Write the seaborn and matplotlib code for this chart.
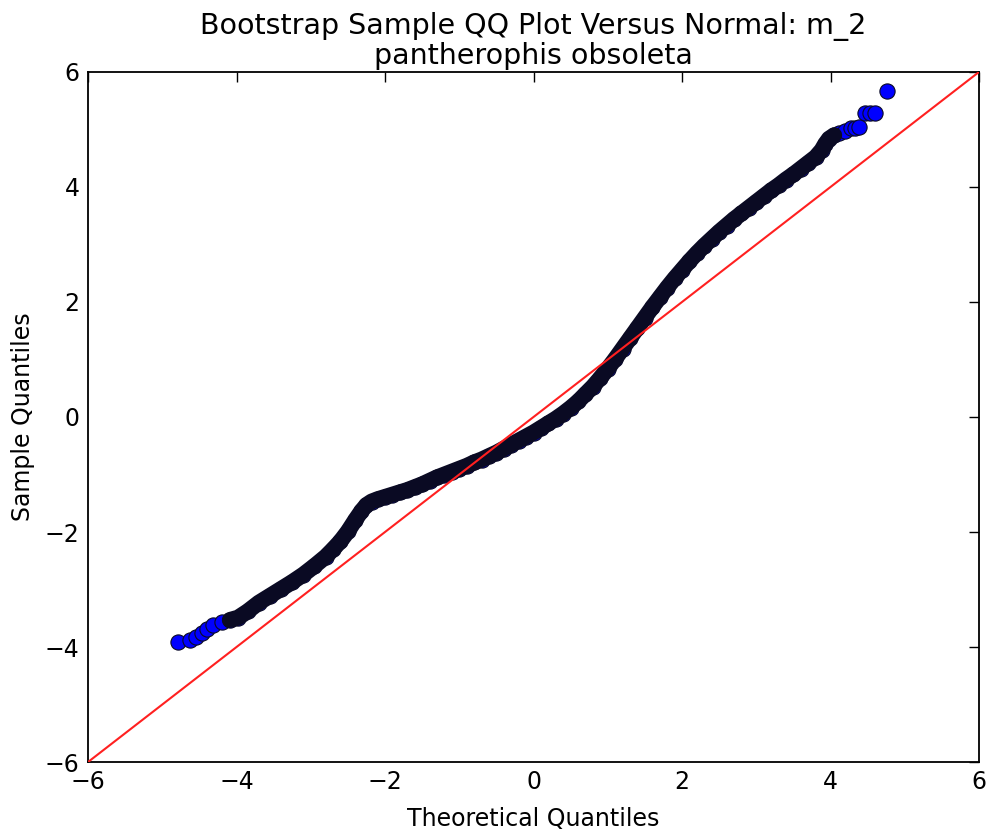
import matplotlib
matplotlib.use("Agg")
import matplotlib.pyplot as plt
import seaborn as sns
import pandas as pd

# Theoretical (normal) quantiles and the matching bootstrap sample quantiles
theoretical = [
    -4.79, -4.62, -4.54, -4.47, -4.40, -4.32, -4.20, -4.09, -3.98, -3.85,
    -3.70, -3.55, -3.40, -3.25, -3.10, -2.95, -2.80, -2.70, -2.60, -2.50,
    -2.40, -2.32, -2.25, -2.18, -2.10, -2.00, -1.90, -1.80, -1.70, -1.60,
    -1.50, -1.40, -1.30, -1.20, -1.10, -1.00, -0.90, -0.80, -0.70, -0.60,
    -0.50, -0.40, -0.30, -0.20, -0.10, 0.00, 0.10, 0.20, 0.30, 0.40,
    0.50, 0.60, 0.70, 0.80, 0.90, 1.00, 1.10, 1.20, 1.30, 1.40,
    1.50, 1.60, 1.70, 1.80, 1.90, 2.00, 2.10, 2.20, 2.30, 2.40,
    2.50, 2.60, 2.70, 2.80, 2.90, 3.00, 3.10, 3.20, 3.30, 3.40,
    3.50, 3.60, 3.70, 3.80, 3.88, 3.93, 3.98, 4.05, 4.12, 4.20,
    4.27, 4.33, 4.38, 4.47, 4.53, 4.60, 4.76,
]
sample = [
    -3.92, -3.87, -3.82, -3.76, -3.68, -3.61, -3.57, -3.53, -3.49, -3.38,
    -3.23, -3.11, -2.99, -2.87, -2.74, -2.59, -2.43, -2.30, -2.16, -1.99,
    -1.79, -1.64, -1.53, -1.47, -1.43, -1.39, -1.35, -1.31, -1.27, -1.22,
    -1.17, -1.11, -1.05, -1.00, -0.95, -0.90, -0.85, -0.79, -0.74, -0.68,
    -0.62, -0.55, -0.48, -0.41, -0.34, -0.27, -0.19, -0.11, -0.03, 0.06,
    0.16, 0.27, 0.40, 0.53, 0.68, 0.84, 1.01, 1.19, 1.37, 1.55,
    1.73, 1.91, 2.08, 2.25, 2.41, 2.56, 2.71, 2.85, 2.98, 3.10,
    3.22, 3.33, 3.44, 3.54, 3.64, 3.74, 3.84, 3.94, 4.03, 4.13,
    4.22, 4.32, 4.42, 4.52, 4.64, 4.75, 4.84, 4.90, 4.94, 4.98,
    5.02, 5.03, 5.05, 5.29, 5.29, 5.29, 5.67,
]
# 45-degree reference line
ref_line = [-6, 6]
ticks = [-6, -4, -2, 0, 2, 4, 6]

sns.set_style("white")
plt.rcParams.update({
    "font.family": ["DejaVu Sans"],
    "text.color": "black",
    "axes.labelcolor": "black",
    "xtick.color": "black",
    "ytick.color": "black",
    "xtick.direction": "in",
    "ytick.direction": "in",
    "xtick.top": True,
    "ytick.right": True,
    "xtick.major.size": 7,
    "ytick.major.size": 7,
    "xtick.major.width": 1.0,
    "ytick.major.width": 1.0,
    "axes.edgecolor": "black",
    "axes.linewidth": 1.3,
})

df = pd.DataFrame({"theoretical": theoretical, "sample": sample})
core = df[(df["theoretical"] >= -4.09) & (df["theoretical"] <= 4.05)]
ref = pd.DataFrame({"x": ref_line, "y": ref_line})

fig = plt.figure(figsize=(9.9, 8.33), dpi=100)
ax = fig.add_axes([0.0889, 0.0852, 0.9, 0.8284])

sns.scatterplot(data=df, x="theoretical", y="sample", ax=ax, s=120,
                color="#0000ff", edgecolor="#0a0a23", linewidth=0.8, zorder=2)
sns.lineplot(data=core, x="theoretical", y="sample", ax=ax, sort=False,
             estimator=None, color="#0a0a23", linewidth=11.5,
             solid_capstyle="round", zorder=3)
sns.lineplot(data=ref, x="x", y="y", ax=ax, sort=False, estimator=None,
             color="#ff2020", linewidth=1.5, zorder=4)

ax.set_xlim(-6, 6)
ax.set_ylim(-6, 6)
ax.set_xticks(ticks)
ax.set_yticks(ticks)
ax.tick_params(labelsize=17, pad=6)
ax.set_xlabel("Theoretical Quantiles", fontsize=17, labelpad=9)
ax.set_ylabel("Sample Quantiles", fontsize=17, labelpad=7)
ax.set_title("Bootstrap Sample QQ Plot Versus Normal: m_2\npantherophis obsoleta",
             fontsize=20.5, pad=6, linespacing=1.05)

fig.savefig("out.png", dpi=100)
